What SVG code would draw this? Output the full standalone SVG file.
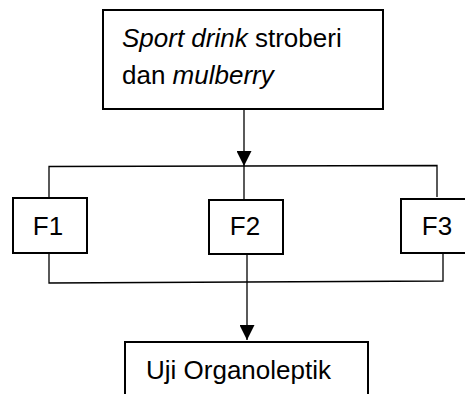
<svg xmlns="http://www.w3.org/2000/svg" width="465" height="394" viewBox="0 0 465 394">
<defs>
<style>
.box{fill:#fff;stroke:#000;stroke-width:2}
.t{font-family:"Liberation Sans",Arial,sans-serif;font-size:26px;fill:#000}
.c{fill:none;stroke:#000;stroke-width:1.3}
</style>
<marker id="arr" viewBox="0 0 10 10" refX="10" refY="5" markerWidth="15" markerHeight="15" markerUnits="userSpaceOnUse" orient="auto">
<path d="M0,0 L10,5 L0,10 Z" fill="#000"/>
</marker>
</defs>
<g id="connectors">
<line class="c" x1="244" y1="109" x2="244" y2="166" marker-end="url(#arr)"/>
<polyline class="c" points="49,198 49,166.5 437,165.5 437,197"/>
<line class="c" x1="244" y1="166" x2="244" y2="200"/>
<polyline class="c" points="49,253 49,283 443,281 443,253"/>
<line class="c" x1="247" y1="254" x2="247" y2="340" marker-end="url(#arr)"/>
</g>
<g id="n0">
<rect class="box" x="103" y="10" width="280" height="99"/>
<text class="t" x="122" y="47"><tspan font-style="italic">Sport drink</tspan> stroberi</text>
<text class="t" x="122" y="84">dan <tspan font-style="italic">mulberry</tspan></text>
</g>
<g id="f1">
<rect class="box" x="13" y="198" width="74" height="55"/>
<text class="t" x="48" y="235" text-anchor="middle">F1</text>
</g>
<g id="f2">
<rect class="box" x="209" y="200" width="74" height="54"/>
<text class="t" x="245" y="235" text-anchor="middle">F2</text>
</g>
<g id="f3">
<rect class="box" x="401" y="199" width="74" height="54"/>
<text class="t" x="437" y="235" text-anchor="middle">F3</text>
</g>
<g id="out">
<rect class="box" x="125" y="342" width="243" height="60"/>
<text class="t" x="146" y="379">Uji Organoleptik</text>
</g>
</svg>
